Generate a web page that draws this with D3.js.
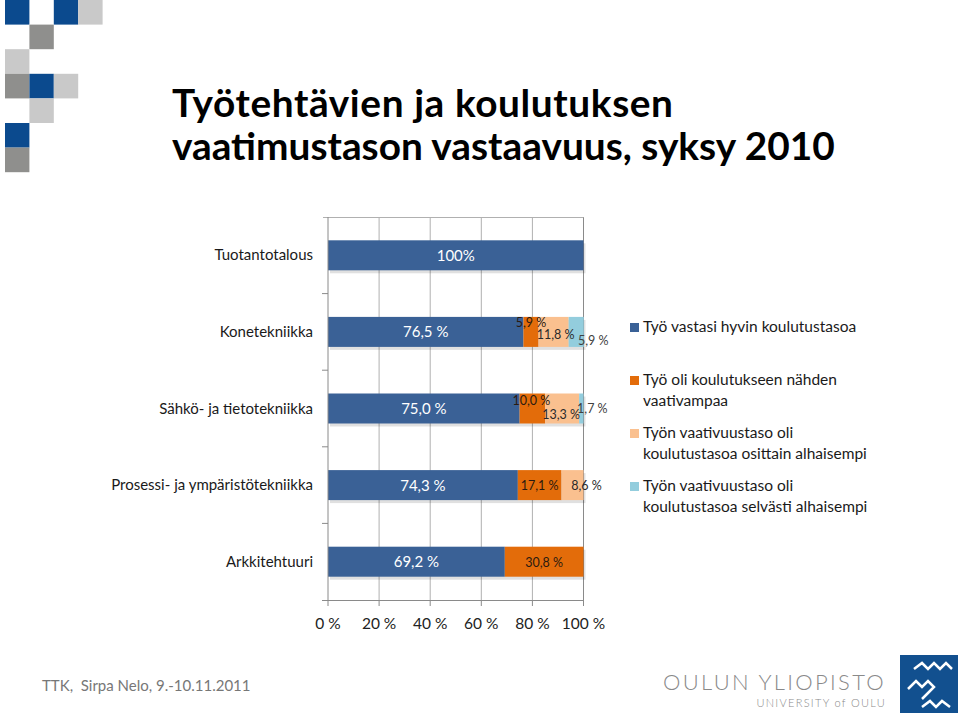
<!DOCTYPE html>
<html><head><meta charset="utf-8">
<script src="https://cdn.jsdelivr.net/npm/d3@7"></script>
<style>
body{margin:0;background:#fff;}
svg{display:block;}
</style></head>
<body>
<svg id="c" width="960" height="715"></svg>
<script>
const categories = ["Tuotantotalous","Konetekniikka","Sähkö- ja tietotekniikka","Prosessi- ja ympäristötekniikka","Arkkitehtuuri"];
const seriesNames = ["Työ vastasi hyvin koulutustasoa","Työ oli koulutukseen nähden vaativampaa","Työn vaativuustaso oli koulutustasoa osittain alhaisempi","Työn vaativuustaso oli koulutustasoa selvästi alhaisempi"];
const legendLines = [["Työ vastasi hyvin koulutustasoa"],["Työ oli koulutukseen nähden","vaativampaa"],["Työn vaativuustaso oli","koulutustasoa osittain alhaisempi"],["Työn vaativuustaso oli","koulutustasoa selvästi alhaisempi"]];
const s1 = [100, 76.5, 75.0, 74.3, 69.2];
const s2 = [0, 5.9, 10.0, 17.1, 30.8];
const s3 = [0, 11.8, 13.3, 8.6, 0];
const s4 = [0, 5.9, 1.7, 0, 0];
const labels1 = ["100%","76,5 %","75,0 %","74,3 %","69,2 %"];
const labels2 = [null,"5,9 %","10,0 %","17,1 %","30,8 %"];
const labels3 = [null,"11,8 %","13,3 %","8,6 %",null];
const labels4 = [null,"5,9 %","1,7 %",null,null];
const xTicks = [0,20,40,60,80,100];
const xTickLabels = ["0 %","20 %","40 %","60 %","80 %","100 %"];
const colors = ["#3a6196","#e36c0a","#fac08f","#93cddd"];

const svg = d3.select("#c");
const F = "Lato, 'Open Sans', sans-serif";

// decorative squares
const sqBlue="#0b4a8e", sqDark="#8f8f8d", sqLight="#c9c9c9";
const deco = [[0,0,sqBlue],[2,0,sqBlue],[3,0,sqLight],[1,1,sqDark],[0,2,sqLight],[0,3,sqDark],[1,3,sqBlue],[2,3,sqLight],[1,4,sqLight],[0,5,sqBlue],[0,6,sqDark]];
svg.append("g").selectAll("rect").data(deco).join("rect")
  .attr("x",d=>5+d[0]*24.4).attr("y",d=>d[1]*24.6).attr("width",24.4).attr("height",24.6).attr("fill",d=>d[2]);

// title
const titleLines = ["Työtehtävien ja koulutuksen","vaatimustason vastaavuus, syksy 2010"];
const tg = svg.append("g");
const t1 = tg.append("text").attr("x",172).attr("y",117).text(titleLines[0]);
const t2 = tg.append("text").attr("x",172).attr("y",160).text(titleLines[1]);
tg.selectAll("text").attr("font-family",F).attr("font-weight",700).attr("font-size",34).attr("fill","#000");
const w2 = t2.node().getComputedTextLength();
const fs = 34*663/w2;
tg.selectAll("text").attr("font-size",fs);
const w1 = t1.node().getComputedTextLength();
t1.attr("letter-spacing", (501 - w1)/(titleLines[0].length-1));

// chart
const x = d3.scaleLinear().domain([0,100]).range([328,583.5]);
const y = d3.scaleBand().domain(categories).range([217,600]);
const barH = 30;
const g = svg.append("g");

// gridlines
g.selectAll("line.grid").data(xTicks.slice(1)).join("line")
  .attr("x1",d=>x(d)).attr("x2",d=>x(d)).attr("y1",217).attr("y2",600)
  .attr("stroke",d=>d===100?"#8a8a8a":"#b0b0b0").attr("stroke-width",1);
g.append("line").attr("x1",323).attr("x2",x(100)).attr("y1",217.5).attr("y2",217.5).attr("stroke","#b0b0b0");

// stacks
const rows = categories.map((c,i)=>({cat:c, v:[s1[i],s2[i],s3[i],s4[i]]}));
const stack = d3.stack().keys([0,1,2,3]).value((d,k)=>d.v[k]);
const stacked = stack(rows);
g.append("g").selectAll("rect").data(rows).join("rect")
  .attr("x",x(0)+2).attr("y",d=>y(d.cat)+y.bandwidth()/2-barH/2+3)
  .attr("width",x(100)-x(0)).attr("height",barH).attr("fill","#000").attr("opacity",0.12);
stacked.forEach((layer,k)=>{
  g.append("g").selectAll("rect").data(layer.filter(d=>d[1]-d[0]>0)).join("rect")
    .attr("x",d=>x(d[0])).attr("y",d=>y(d.data.cat)+y.bandwidth()/2-barH/2)
    .attr("width",d=>x(d[1])-x(d[0])).attr("height",barH).attr("fill",colors[k]);
});

// axes lines
g.append("line").attr("x1",328).attr("x2",328).attr("y1",217).attr("y2",600).attr("stroke","#8a8a8a");
g.append("line").attr("x1",322).attr("x2",x(100)).attr("y1",600.5).attr("y2",600.5).attr("stroke","#8a8a8a");
g.selectAll("line.xt").data(xTicks).join("line")
  .attr("x1",d=>x(d)).attr("x2",d=>x(d)).attr("y1",600).attr("y2",606).attr("stroke","#8a8a8a");
g.selectAll("text.xt").data(xTicks).join("text")
  .attr("x",d=>x(d)).attr("y",629).attr("text-anchor","middle")
  .attr("font-family",F).attr("font-size",15.5).attr("fill","#222")
  .text((d,i)=>xTickLabels[i]);
const edges = categories.map(c=>y(c)).concat([600]);
g.selectAll("line.yt").data(edges.slice(1,5)).join("line")
  .attr("x1",322).attr("x2",328).attr("y1",d=>d).attr("y2",d=>d).attr("stroke","#8a8a8a");
g.selectAll("text.cat").data(categories).join("text")
  .attr("x",313).attr("y",c=>y(c)+y.bandwidth()/2+5).attr("text-anchor","end")
  .attr("font-family",F).attr("font-size",15).attr("fill","#1a1a1a").text(c=>c);

// value labels
const mid = (k,i)=>{const d=stacked[k][i]; return x((d[0]+d[1])/2);};
const cy = i=>y(categories[i])+y.bandwidth()/2;
const lab = g.append("g").attr("font-family",F);
labels1.forEach((t,i)=>{ lab.append("text").attr("x",mid(0,i)).attr("y",cy(i)+5.5).attr("text-anchor","middle")
  .attr("font-size",15).attr("fill","#fff").text(t); });
const off2 = [null,[0,-5],[-1,-3.5],[0,5],[0,5]];
labels2.forEach((t,i)=>{ if(!t) return; lab.append("text").attr("x",mid(1,i)+off2[i][0]).attr("y",cy(i)+off2[i][1]).attr("text-anchor","middle")
  .attr("font-size",12.5).attr("fill","#2a1a10").text(t); });
const off3 = [null,[2,7],[-1,10],[14,5],null];
labels3.forEach((t,i)=>{ if(!t) return; lab.append("text").attr("x",mid(2,i)+off3[i][0]).attr("y",cy(i)+off3[i][1]).attr("text-anchor","middle")
  .attr("font-size",12.5).attr("fill","#2a2a2a").text(t); });
const off4 = [null,[17,13],[11,4.5],null,null];
labels4.forEach((t,i)=>{ if(!t) return; lab.append("text").attr("x",mid(3,i)+off4[i][0]).attr("y",cy(i)+off4[i][1]).attr("text-anchor","middle")
  .attr("font-size",12.5).attr("fill","#404040").text(t); });

// legend
const legY = [332,385,438,491];
const lg = svg.append("g").attr("font-family",F);
legendLines.forEach((lines,k)=>{
  lg.append("rect").attr("x",630).attr("y",legY[k]-9).attr("width",9).attr("height",9).attr("fill",colors[k]);
  lines.forEach((l,j)=>lg.append("text").attr("x",643).attr("y",legY[k]+j*21).attr("font-size",15.5).attr("fill","#1a1a1a").text(l));
});

// footer
svg.append("text").attr("x",42).attr("y",691).attr("font-family",F).attr("font-size",15).attr("fill","#777")
  .style("white-space","pre").text("TTK,  Sirpa Nelo, 9.-10.11.2011");
svg.append("text").attr("x",886).attr("y",690).attr("text-anchor","end").attr("font-family",F).attr("font-weight",300)
  .attr("font-size",22).attr("letter-spacing",2.3).attr("fill","#8a8a8a").text("OULUN YLIOPISTO");
svg.append("text").attr("x",886).attr("y",707).attr("text-anchor","end").attr("font-family",F).attr("font-weight",300)
  .attr("font-size",11).attr("letter-spacing",1.3).attr("fill","#8a8a8a").text("UNIVERSITY of OULU");
const lgo = svg.append("g").attr("transform","translate(900,655)");
lgo.append("rect").attr("width",58).attr("height",58).attr("fill","#12508f");
const pts = [[[14,14],[22,8],[28,14],[34,8],[40,14],[46,8],[52,14]],[[8,34],[16,26],[22,32],[28,26],[34,32],[28,38],[22,44]],[[22,52],[30,46],[36,52],[42,46],[50,52]]];
pts.forEach(p=>lgo.append("path").attr("d",d3.line()(p)).attr("fill","none").attr("stroke","#fff").attr("stroke-width",2.5));
</script>
</body></html>
